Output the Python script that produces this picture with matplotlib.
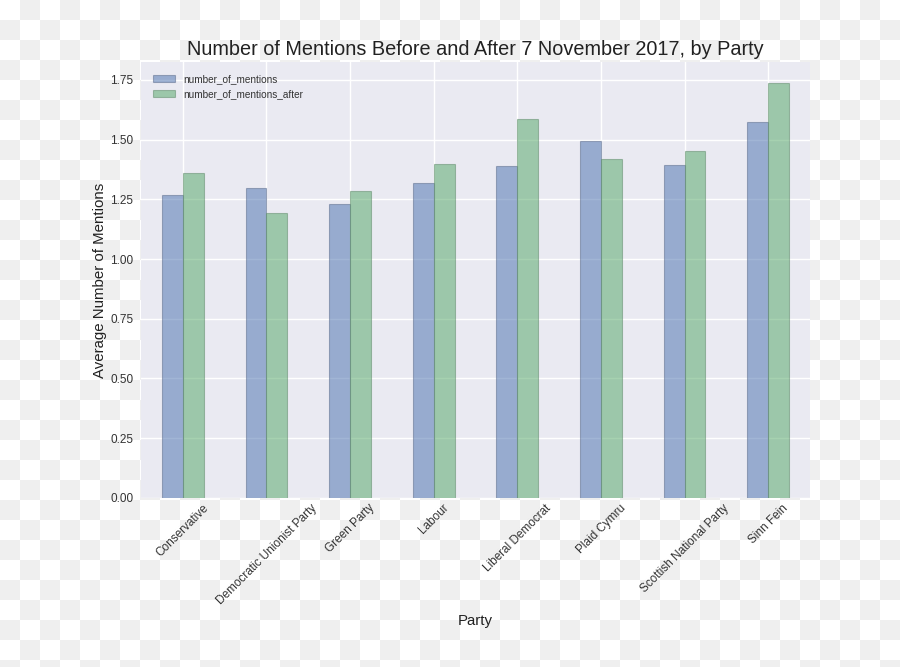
import numpy as np
import matplotlib
matplotlib.use("Agg")
import matplotlib.pyplot as plt

parties = ["Conservative", "Democratic Unionist Party", "Green Party", "Labour",
           "Liberal Democrat", "Plaid Cymru", "Scottish National Party", "Sinn Fein"]
before = [1.268, 1.299, 1.230, 1.320, 1.389, 1.494, 1.394, 1.574]
after = [1.361, 1.193, 1.285, 1.398, 1.586, 1.419, 1.454, 1.737]
series_names = ["number_of_mentions", "number_of_mentions_after"]

plt.rcParams['font.family'] = ['Liberation Sans', 'DejaVu Sans']

W, H = 900, 667
fig = plt.figure(figsize=(W / 100, H / 100), dpi=100)

# checkerboard background (transparent-canvas look)
bg = fig.add_axes([0, 0, 1, 1], zorder=-10)
yy, xx = np.mgrid[0:H, 0:W]
chk = ((xx // 20 + yy // 20) % 2).astype(float)
bg.imshow(chk, cmap=matplotlib.colors.ListedColormap(['#ffffff', '#efefef']),
          interpolation='nearest', aspect='auto', extent=(0, W, H, 0))
bg.set_axis_off()

left, right, top, bottom = 141, 810, 62, 497.8
ax = fig.add_axes([left / W, 1 - bottom / H, (right - left) / W, (bottom - top) / H])
ax.set_facecolor('#EAEAF2')
for s in ax.spines.values():
    s.set_visible(False)
ax.grid(True, color='white', linewidth=1)
ax.set_axisbelow(True)

x = np.arange(len(parties))
w = 0.25
ax.bar(x - w / 2, before, w, color='#4C72B0', alpha=0.52, edgecolor='#5a6a8a',
       linewidth=0.8, label=series_names[0])
ax.bar(x + w / 2, after, w, color='#55A868', alpha=0.52, edgecolor='#5f8a6a',
       linewidth=0.8, label=series_names[1])

ax.set_xlim(-0.5, len(parties) - 0.5)
ax.set_ylim(0, 1.825)
yt = np.arange(0, 1.76, 0.25)
ax.set_yticks(yt)
ax.set_yticklabels([f"{v:.2f}" for v in yt], fontsize=8.5, color='#333333')
ax.set_xticks(x)
ax.set_xticklabels(parties, rotation=45, ha='center', fontsize=8.5, color='#333333')
ax.tick_params(axis='y', length=0, pad=5.5)
ax.tick_params(axis='x', length=0, pad=3)

ax.set_title("Number of Mentions Before and After 7 November 2017, by Party",
             fontsize=14.3, color='#222222', pad=5)
ax.set_xlabel("Party", fontsize=10.8, color='#222222', labelpad=5)
ax.set_ylabel("Average Number of Mentions", fontsize=10.8, color='#222222', labelpad=2)

leg = ax.legend(loc='upper left', fontsize=7.2, frameon=False, handlelength=2.2,
                borderaxespad=0.8)
for t in leg.get_texts():
    t.set_color('#333333')

fig.savefig("out.png", dpi=100)
